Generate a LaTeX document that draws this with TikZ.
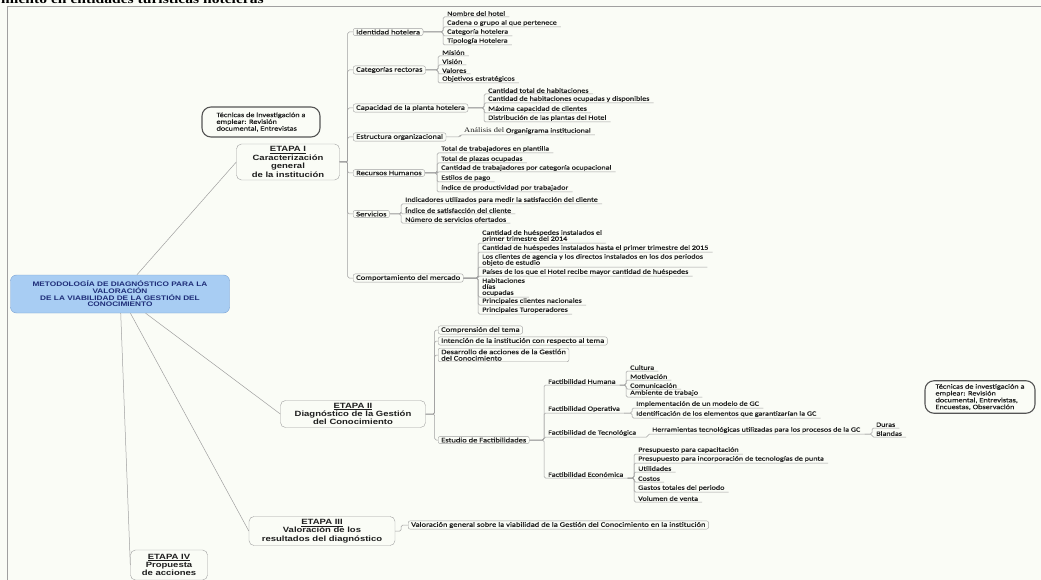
\documentclass[tikz,border=0pt]{standalone}
\usepackage{fontspec}
\newfontfamily\mapfont{Carlito}[FakeStretch=1.25,FakeBold=0.4]
\newfontfamily\etapafont{Liberation Sans}[FakeStretch=1.25]
\newfontfamily\titlefont{Liberation Serif}[FakeStretch=1.2]
\definecolor{paper}{RGB}{250,252,246}
\definecolor{wire}{RGB}{160,160,160}
\definecolor{ink}{RGB}{30,30,30}
\definecolor{hubfill}{RGB}{168,205,243}
\definecolor{hubline}{RGB}{120,160,210}
\definecolor{hubink}{RGB}{30,45,120}
\definecolor{noteline}{RGB}{85,85,85}
\tikzset{
hub/.style={
  draw=hubline, fill=hubfill,
  rounded corners=6pt,
  align=center, text=hubink,
  font=\etapafont\bfseries\fontsize{6.6}{6.7}\selectfont,
  minimum width=219pt, minimum height=38pt
  },
stage/.style={
  draw=wire, fill=paper,
  rounded corners=5pt,
  align=center, text=ink, inner sep=1pt,
  font=\etapafont\bfseries\fontsize{7.6}{8.4}\selectfont
  },
topic/.style={
  anchor=west, draw=wire, fill=paper,
  rounded corners=2pt,
  align=left, text=ink,
  inner xsep=3pt, inner ysep=1.2pt,
  font=\mapfont\fontsize{6.8}{6.4}\selectfont
  },
leaf/.style={
  anchor=south west, align=left, text=ink,
  inner xsep=4pt, inner ysep=1pt,
  font=\mapfont\fontsize{6.5}{6}\selectfont
  },
note/.style={
  draw=noteline, line width=1.1pt, fill=paper,
  rounded corners=9pt,
  align=left, text=ink,
  font=\mapfont\fontsize{6.6}{6.8}\selectfont
  },
branch/.style={draw=wire, line width=0.5pt, rounded corners=1.5pt},
trunk/.style={to path={(\tikztostart.east) -- ++(#1,0) |- (\tikztotarget.west)}},
fork/.style={to path={(\tikztostart.east) -| (\tikztotarget.south west) -- (\tikztotarget.south east)}},
subfork/.style={to path={(\tikztostart.south east) -| (\tikztotarget.south west) -- (\tikztotarget.south east)}}
}

\begin{document}
\begin{tikzpicture}[x=1pt,y=-1pt]
        \useasboundingbox (0,0) rectangle (1041,580);
        \clip (0,0) rectangle (1041,580);
        \fill[paper] (0,0) rectangle (1041,580);
        \node[anchor=base west, inner sep=0pt, font=\titlefont\bfseries\fontsize{13}{13}\selectfont] at (1,4) (head) {miento en entidades turísticas hoteleras};
        \draw[wire] (7,580) |- (1041,6);

        \node[hub] at (120,294) (hub) {METODOLOGÍA DE DIAGNÓSTICO PARA LA\\VALORACIÓN\\DE LA VIABILIDAD DE LA GESTIÓN DEL\\CONOCIMIENTO};
        \node[stage, minimum width=103pt, minimum height=36pt] at (288,162) (e1) {\underline{ETAPA I}\\Caracterización\\general\\de la institución};
        \node[stage, minimum width=145pt, minimum height=27pt] at (353,414) (e2) {\underline{ETAPA II}\\Diagnóstico de la Gestión\\del Conocimiento};
        \node[stage, minimum width=146pt, minimum height=29pt] at (322,531) (e3) {\underline{ETAPA III}\\Valoración de los\\resultados del diagnóstico};
        \node[stage, minimum width=77pt, minimum height=30pt] at (169,565) (e4) {\underline{ETAPA IV}\\Propuesta\\de acciones};
        \node[note, minimum width=118pt, minimum height=30pt] at (261,122) (tec1) {Técnicas de investigación a\\emplear: Revisión\\documental, Entrevistas};
        \node[note, minimum width=110pt, minimum height=32pt] at (980,397) (tec2) {Técnicas de investigación a\\emplear: Revisión\\documental, Entrevistas,\\Encuestas, Observación};

        % etapa I
        \node[topic] at (353,32) (id) {Identidad hotelera};
        \node[topic] at (353,70) (cat) {Categorías rectoras};
        \node[topic] at (353,108) (cap) {Capacidad de la planta hotelera};
        \node[topic] at (353,137) (est) {Estructura organizacional};
        \node[topic] at (353,173) (rh) {Recursos Humanos};
        \node[topic] at (353,214) (serv) {Servicios};
        \node[topic] at (353,278) (merc) {Comportamiento del mercado};
        \node[leaf] at (443,17) (id1) {Nombre del hotel};
        \node[leaf] at (443,27) (id2) {Cadena o grupo al que pertenece};
        \node[leaf] at (443,36) (id3) {Categoría hotelera};
        \node[leaf] at (443,45) (id4) {Tipología Hotelera};
        \node[leaf] at (438,56) (cat1) {Misión};
        \node[leaf] at (438,65) (cat2) {Visión};
        \node[leaf] at (438,74) (cat3) {Valores};
        \node[leaf] at (438,83) (cat4) {Objetivos estratégicos};
        \node[leaf] at (484,94) (cap1) {Cantidad total de habitaciones};
        \node[leaf] at (484,103) (cap2) {Cantidad de habitaciones ocupadas y disponibles};
        \node[leaf] at (484,113) (cap3) {Máxima capacidad de clientes};
        \node[leaf] at (484,122) (cap4) {Distribución de las plantas del Hotel};
        \node[leaf] at (460,135) (est1) {{\titlefont\fontsize{7}{7}\selectfont Análisis del} Organigrama institucional};
        \node[leaf] at (437,153) (rh1) {Total de trabajadores en plantilla};
        \node[leaf] at (437,163) (rh2) {Total de plazas ocupadas};
        \node[leaf] at (437,172) (rh3) {Cantidad de trabajadores por categoría ocupacional};
        \node[leaf] at (437,182) (rh4) {Estilos de pago};
        \node[leaf] at (437,192) (rh5) {índice de productividad por trabajador};
        \node[leaf] at (401,204) (serv1) {Indicadores utilizados para medir la satisfacción del cliente};
        \node[leaf] at (401,214) (serv2) {Índice de satisfacción del cliente};
        \node[leaf] at (401,223) (serv3) {Número de servicios ofertados};
        \node[leaf] at (478,243) (merc1) {Cantidad de huéspedes instalados el\\primer trimestre del 2014};
        \node[leaf] at (478,252) (merc2) {Cantidad de huéspedes instalados hasta el primer trimestre del 2015};
        \node[leaf] at (478,267) (merc3) {Los clientes de agencia y los directos instalados en los dos periodos\\objeto de estudio};
        \node[leaf] at (478,276) (merc4) {Países de los que el Hotel recibe mayor cantidad de huéspedes};
        \node[leaf] at (478,297) (merc5) {Habitaciones\\días\\ocupadas};
        \node[leaf] at (478,305) (merc6) {Principales clientes nacionales};
        \node[leaf] at (478,314) (merc7) {Principales Turoperadores};

        % etapa II
        \node[topic] at (438,330) (comp) {Comprensión del tema};
        \node[topic] at (438,341) (inten) {Intención de la institución con respecto al tema};
        \node[topic] at (438,355) (desa) {Desarrollo de acciones de la Gestión\\del Conocimiento};
        \node[topic] at (438,440) (estu) {Estudio de Factibilidades};
        \node[leaf] at (544,385) (fh) {Factibilidad Humana};
        \node[leaf] at (544,413) (fo) {Factibilidad Operativa};
        \node[leaf] at (544,437) (ft) {Factibilidad de Tecnológica};
        \node[leaf] at (544,478) (fe) {Factibilidad Económica};
        \node[leaf] at (626,371) (fh1) {Cultura};
        \node[leaf] at (626,380) (fh2) {Motivación};
        \node[leaf] at (626,389) (fh3) {Comunicación};
        \node[leaf] at (626,397) (fh4) {Ambiente de trabajo};
        \node[leaf] at (632,408) (fo1) {Implementación de un modelo de GC};
        \node[leaf] at (632,418) (fo2) {Identificación de los elementos que garantizarían la GC};
        \node[leaf] at (648,434) (herr) {Herramientas tecnológicas utilizadas para los procesos de la GC};
        \node[leaf] at (872,428) (dur) {Duras};
        \node[leaf] at (872,437) (bla) {Blandas};
        \node[leaf] at (634,454) (fe1) {Presupuesto para capacitación};
        \node[leaf] at (634,463) (fe2) {Presupuesto para incorporación de tecnologías de punta};
        \node[leaf] at (634,472) (fe3) {Utilidades};
        \node[leaf] at (634,482) (fe4) {Costos};
        \node[leaf] at (634,492) (fe5) {Gastos totales del periodo};
        \node[leaf] at (634,502) (fe6) {Volumen de venta};

        % etapa III
        \node[topic] at (408,525) (val) {Valoración general sobre la viabilidad de la Gestión del Conocimiento en la institución};

        \path[branch]
        (hub) edge (e1.west)
        (hub) edge (e2.west)
        (hub) edge (e3.west)
        (hub) edge (e4.west)
        (e1) edge[trunk=8] (id)
        (e1) edge[trunk=8] (cat)
        (e1) edge[trunk=8] (cap)
        (e1) edge[trunk=8] (est)
        (e1) edge[trunk=8] (rh)
        (e1) edge[trunk=8] (serv)
        (e1) edge[trunk=8] (merc)
        (id) edge[fork] (id1) (id) edge[fork] (id2) (id) edge[fork] (id3) (id) edge[fork] (id4)
        (cat) edge[fork] (cat1) (cat) edge[fork] (cat2) (cat) edge[fork] (cat3) (cat) edge[fork] (cat4)
        (cap) edge[fork] (cap1) (cap) edge[fork] (cap2) (cap) edge[fork] (cap3) (cap) edge[fork] (cap4)
        (est) edge[fork] (est1)
        (rh) edge[fork] (rh1) (rh) edge[fork] (rh2) (rh) edge[fork] (rh3) (rh) edge[fork] (rh4) (rh) edge[fork] (rh5)
        (serv) edge[fork] (serv1) (serv) edge[fork] (serv2) (serv) edge[fork] (serv3)
        (merc) edge[fork] (merc1) (merc) edge[fork] (merc2) (merc) edge[fork] (merc3) (merc) edge[fork] (merc4)
        (merc) edge[fork] (merc5) (merc) edge[fork] (merc6) (merc) edge[fork] (merc7)
        (e2) edge[trunk=9] (comp)
        (e2) edge[trunk=9] (inten)
        (e2) edge[trunk=9] (desa)
        (e2) edge[trunk=9] (estu)
        (estu) edge[fork] (fh) (estu) edge[fork] (fo) (estu) edge[fork] (ft) (estu) edge[fork] (fe)
        (fh) edge[subfork] (fh1) (fh) edge[subfork] (fh2) (fh) edge[subfork] (fh3) (fh) edge[subfork] (fh4)
        (fo) edge[subfork] (fo1) (fo) edge[subfork] (fo2)
        (ft) edge[subfork] (herr)
        (herr) edge[subfork] (dur) (herr) edge[subfork] (bla)
        (fe) edge[subfork] (fe1) (fe) edge[subfork] (fe2) (fe) edge[subfork] (fe3)
        (fe) edge[subfork] (fe4) (fe) edge[subfork] (fe5) (fe) edge[subfork] (fe6)
        (e3) edge[trunk=6] (val)
        ;
    \end{tikzpicture}
\end{document}
